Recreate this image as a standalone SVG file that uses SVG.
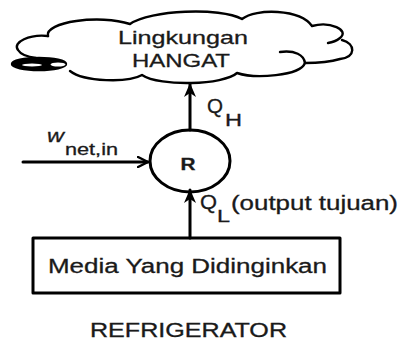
<svg xmlns="http://www.w3.org/2000/svg" width="400" height="343" viewBox="0 0 400 343">
  <defs>
    <style>
      .t { font-family: "Liberation Sans", Arial, sans-serif; fill: #1a1a1a; stroke: #1a1a1a; stroke-width: 0.3; }
      .ln { fill: none; stroke: #000; stroke-width: 3; stroke-linecap: round; stroke-linejoin: round; }
      .cl { fill: none; stroke: #000; stroke-width: 2.4; stroke-linecap: round; stroke-linejoin: round; }
    </style>
    <marker id="solid" viewBox="0 0 14 12" refX="13" refY="6" markerWidth="14" markerHeight="12" markerUnits="userSpaceOnUse" orient="auto">
      <path d="M0,0 L14,6 L0,12 L4,6 Z" fill="#000"/>
    </marker>
    <marker id="open" viewBox="0 0 12 12" refX="11" refY="6" markerWidth="12" markerHeight="12" markerUnits="userSpaceOnUse" orient="auto">
      <path d="M1,1 L11,6 L1,11" fill="none" stroke="#000" stroke-width="2.4" stroke-linecap="round" stroke-linejoin="round"/>
    </marker>
  </defs>
  <rect width="400" height="343" fill="#fff"/>

  <!-- warm surroundings: cloud -->
  <g id="lingkungan">
    <path class="cl" d="M48,36 C44,22 100,14 130,24 C150,10 220,7 242,19 C256,8 300,9 312,26 C330,21 350,30 340,38 Q335,42 328,43"/>
    <path class="cl" d="M342,40 C356,44 356,57 340,59 C330,62 315,63 305,63 C300,76 255,79 237,73 C224,85 160,87 142,75 C128,83 84,82 70,71"/>
    <path class="cl" d="M280,52 C295,50 304,55 305,63"/>
    <path class="cl" d="M48,36 C30,34 12,42 18,50 C21,55 28,57 36,58"/>
    <ellipse cx="39" cy="64" rx="27" ry="6" fill="#000" stroke="#000" stroke-width="2.4"/>
    <ellipse cx="32" cy="65" rx="10" ry="1.5" fill="#fff"/>
    <ellipse cx="58" cy="64.5" rx="7.5" ry="2" fill="#fff"/>
    <text class="t" x="118" y="44" font-size="19" textLength="130" lengthAdjust="spacingAndGlyphs">Lingkungan</text>
    <text class="t" x="132" y="67" font-size="19" textLength="98" lengthAdjust="spacingAndGlyphs">HANGAT</text>
  </g>

  <!-- refrigerator -->
  <g id="R">
    <ellipse cx="190" cy="161" rx="40" ry="31" class="ln"/>
    <text class="t" x="188" y="170" font-size="16" font-weight="bold" text-anchor="middle" textLength="15" lengthAdjust="spacingAndGlyphs">R</text>
  </g>

  <!-- cooled space -->
  <g id="media">
    <rect x="33" y="238" width="307" height="55" class="ln"/>
    <text class="t" x="48" y="273" font-size="20" textLength="279" lengthAdjust="spacingAndGlyphs">Media Yang Didinginkan</text>
  </g>

  <g id="connectors">
    <line class="ln" x1="190" y1="130" x2="190" y2="84" marker-end="url(#solid)"/>
    <line class="ln" x1="190" y1="238" x2="190" y2="190" marker-end="url(#solid)"/>
    <line class="ln" x1="23" y1="162" x2="148" y2="162" marker-end="url(#open)"/>
  </g>

  <g id="labels">
    <text class="t" x="207" y="113" font-size="20" textLength="16" lengthAdjust="spacingAndGlyphs">Q</text>
    <text class="t" x="225" y="126" font-size="16" textLength="17" lengthAdjust="spacingAndGlyphs">H</text>
    <text class="t" x="47" y="142" font-size="19" font-style="italic" textLength="17" lengthAdjust="spacingAndGlyphs">w</text>
    <text class="t" x="65" y="155" font-size="16" textLength="53" lengthAdjust="spacingAndGlyphs">net,in</text>
    <text class="t" x="200" y="209" font-size="20" textLength="17" lengthAdjust="spacingAndGlyphs">Q</text>
    <text class="t" x="217" y="222" font-size="16" textLength="13" lengthAdjust="spacingAndGlyphs">L</text>
    <text class="t" x="231" y="210" font-size="20" textLength="167" lengthAdjust="spacingAndGlyphs">(output tujuan)</text>
    <text class="t" x="90" y="337" font-size="19.5" textLength="197" lengthAdjust="spacingAndGlyphs">REFRIGERATOR</text>
  </g>
</svg>
